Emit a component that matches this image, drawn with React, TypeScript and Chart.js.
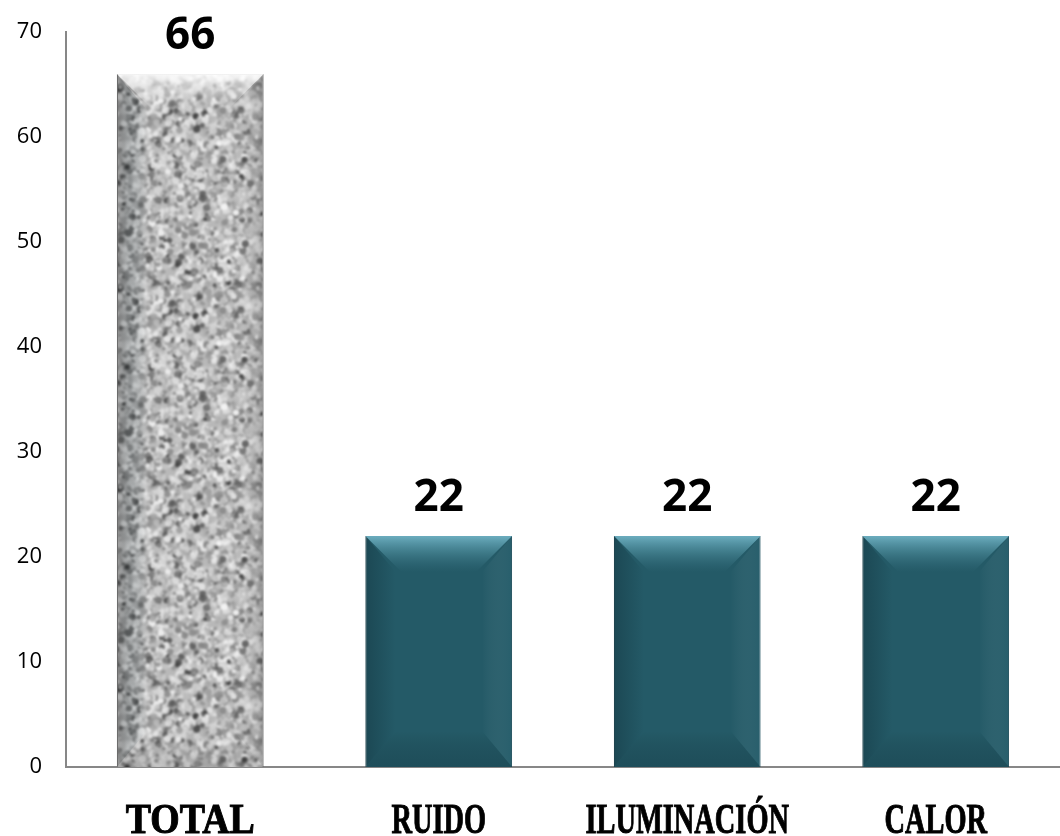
import React, { useEffect, useRef } from "react";
import { Chart, registerables } from "chart.js";

Chart.register(...registerables);

const categories = ["TOTAL", "RUIDO", "ILUMINACIÓN", "CALOR"];
const values = [66, 22, 22, 22];
const yMin = 0;
const yMax = 70;
const yStep = 10;

function mulberry32(a: number) {
  return function () {
    a |= 0;
    a = (a + 0x6d2b79f5) | 0;
    let t = Math.imul(a ^ (a >>> 15), 1 | a);
    t = (t + Math.imul(t ^ (t >>> 7), 61 | t)) ^ t;
    return ((t ^ (t >>> 14)) >>> 0) / 4294967296;
  };
}

function makeGranite(ctxRef: CanvasRenderingContext2D): CanvasPattern | string {
  const size = 200;
  const c1 = document.createElement("canvas");
  c1.width = size;
  c1.height = size;
  const g = c1.getContext("2d");
  if (!g) return "#b0b0b0";
  g.fillStyle = "#b8b8b8";
  g.fillRect(0, 0, size, size);
  const rnd = mulberry32(9876);
  for (let i = 0; i < 4200; i++) {
    const x = rnd() * size;
    const y = rnd() * size;
    const r = 1.2 + rnd() * 2.6;
    const v = rnd();
    let gray;
    if (v < 0.12) gray = 60 + Math.floor(rnd() * 50);
    else if (v < 0.42) gray = 125 + Math.floor(rnd() * 50);
    else gray = 185 + Math.floor(rnd() * 60);
    g.fillStyle = `rgba(${gray},${gray},${gray},${0.6 + rnd() * 0.4})`;
    for (let dx = -1; dx <= 1; dx++)
      for (let dy = -1; dy <= 1; dy++) {
        g.beginPath();
        g.arc(x + dx * size, y + dy * size, r, 0, Math.PI * 2);
        g.fill();
      }
  }
  const tiled = document.createElement("canvas");
  tiled.width = size * 3;
  tiled.height = size * 3;
  const gt = tiled.getContext("2d");
  if (!gt) return "#b0b0b0";
  for (let dx = 0; dx < 3; dx++)
    for (let dy = 0; dy < 3; dy++) gt.drawImage(c1, dx * size, dy * size);
  const big = document.createElement("canvas");
  big.width = size * 3;
  big.height = size * 3;
  const gb = big.getContext("2d");
  if (!gb) return "#b0b0b0";
  (gb as any).filter = "blur(1.1px)";
  gb.drawImage(tiled, 0, 0);
  const c3 = document.createElement("canvas");
  c3.width = size;
  c3.height = size;
  const g3 = c3.getContext("2d");
  if (!g3) return "#b0b0b0";
  g3.drawImage(big, size, size, size, size, 0, 0, size, size);
  return ctxRef.createPattern(c3, "repeat") || "#b0b0b0";
}

const bevelPlugin = {
  id: "bevel",
  afterDatasetsDraw(chart: any) {
    const ctx: CanvasRenderingContext2D = chart.ctx;
    const meta = chart.getDatasetMeta(0);
    meta.data.forEach((bar: any, i: number) => {
      const { x, y, base, width } = bar.getProps(["x", "y", "base", "width"], true);
      const L = x - width / 2;
      const R = x + width / 2;
      const T = y;
      const B = base;
      const b = 36;
      const s = 30;
      const granite = i === 0;
      ctx.save();
      let gr = ctx.createLinearGradient(0, T, 0, T + b);
      if (granite) {
        gr.addColorStop(0, "rgba(255,255,255,0.9)");
        gr.addColorStop(0.5, "rgba(255,255,255,0.35)");
        gr.addColorStop(1, "rgba(255,255,255,0.0)");
      } else {
        gr.addColorStop(0, "rgba(112,178,196,0.95)");
        gr.addColorStop(0.45, "rgba(85,150,166,0.55)");
        gr.addColorStop(1, "rgba(60,120,135,0.0)");
      }
      ctx.fillStyle = gr;
      ctx.beginPath();
      ctx.moveTo(L, T);
      ctx.lineTo(R, T);
      ctx.lineTo(R - b, T + b);
      ctx.lineTo(L + b, T + b);
      ctx.closePath();
      ctx.fill();
      gr = ctx.createLinearGradient(L, 0, L + s, 0);
      gr.addColorStop(0, granite ? "rgba(30,30,30,0.35)" : "rgba(15,45,55,0.4)");
      gr.addColorStop(1, "rgba(15,45,55,0)");
      ctx.fillStyle = gr;
      ctx.beginPath();
      ctx.moveTo(L, T);
      ctx.lineTo(L + s, T + b);
      ctx.lineTo(L + s, B - b);
      ctx.lineTo(L, B);
      ctx.closePath();
      ctx.fill();
      gr = ctx.createLinearGradient(R - s, 0, R, 0);
      gr.addColorStop(0, "rgba(255,255,255,0)");
      gr.addColorStop(1, granite ? "rgba(30,30,30,0.25)" : "rgba(60,120,135,0.15)");
      ctx.fillStyle = gr;
      ctx.beginPath();
      ctx.moveTo(R, T);
      ctx.lineTo(R - s, T + b);
      ctx.lineTo(R - s, B - b);
      ctx.lineTo(R, B);
      ctx.closePath();
      ctx.fill();
      gr = ctx.createLinearGradient(0, B - b, 0, B);
      gr.addColorStop(0, "rgba(0,0,0,0)");
      gr.addColorStop(1, granite ? "rgba(0,0,0,0.12)" : "rgba(10,35,45,0.22)");
      ctx.fillStyle = gr;
      ctx.beginPath();
      ctx.moveTo(L, B);
      ctx.lineTo(R, B);
      ctx.lineTo(R - s, B - b);
      ctx.lineTo(L + s, B - b);
      ctx.closePath();
      ctx.fill();
      ctx.restore();
    });
  },
};

const labelScale = [0.88, 0.66, 0.66, 0.66];

const labelsPlugin = {
  id: "labelsPlugin",
  afterDraw(chart: any) {
    const ctx: CanvasRenderingContext2D = chart.ctx;
    const meta = chart.getDatasetMeta(0);
    const xScale = chart.scales.x;
    const area = chart.chartArea;
    ctx.save();
    ctx.fillStyle = "#000000";
    ctx.strokeStyle = "#000000";
    ctx.textAlign = "center";
    ctx.textBaseline = "alphabetic";
    ctx.font = 'bold 44px "Open Sans"';
    meta.data.forEach((bar: any, i: number) => {
      const { x, y } = bar.getProps(["x", "y"], true);
      ctx.fillText(String(chart.data.datasets[0].data[i]), x, y - 25);
    });
    ctx.font = 'bold 43px "Liberation Serif"';
    ctx.lineWidth = 1;
    (chart.data.labels as string[]).forEach((lab, i) => {
      const x = xScale.getPixelForValue(i);
      ctx.save();
      ctx.translate(x, area.bottom + 66);
      ctx.scale(labelScale[i] ?? 0.66, 1);
      ctx.fillText(lab, 0, 0);
      ctx.strokeText(lab, 0, 0);
      ctx.restore();
    });
    ctx.restore();
  },
};

export default function App() {
  const ref = useRef<HTMLCanvasElement | null>(null);
  useEffect(() => {
    const canvas = ref.current;
    if (!canvas) return;
    const ctx = canvas.getContext("2d");
    if (!ctx) return;
    const granite = makeGranite(ctx);
    const chart = new Chart(canvas, {
      type: "bar",
      data: {
        labels: categories,
        datasets: [
          {
            data: values,
            backgroundColor: [granite as any, "#245a67", "#245a67", "#245a67"],
            borderColor: ["#8a8a8a", "#1d4a56", "#1d4a56", "#1d4a56"],
            borderWidth: 1,
            barPercentage: 0.59,
            categoryPercentage: 1,
          },
        ],
      },
      options: {
        animation: false,
        responsive: false,
        maintainAspectRatio: false,
        layout: { padding: { top: 32, bottom: 61, left: 0, right: -7 } },
        plugins: { legend: { display: false }, tooltip: { enabled: false } },
        scales: {
          x: {
            grid: { display: false },
            border: { display: true, color: "#878787", width: 2 },
            ticks: { display: false },
          },
          y: {
            min: yMin,
            max: yMax,
            afterFit: (scale: any) => {
              scale.width = 66;
            },
            grid: { display: false, drawTicks: false },
            border: { display: true, color: "#878787", width: 2 },
            ticks: {
              stepSize: yStep,
              padding: 24,
              color: "#000000",
              font: { family: "Open Sans", size: 22, lineHeight: 0.2 },
            },
          },
        },
      },
      plugins: [bevelPlugin, labelsPlugin],
    });
    return () => chart.destroy();
  }, []);
  return (
    <div style={{ position: "absolute", left: 0, top: 0, width: 1060, height: 836, background: "#fff" }}>
      <canvas ref={ref} width={1060} height={836} style={{ display: "block" }} />
    </div>
  );
}
